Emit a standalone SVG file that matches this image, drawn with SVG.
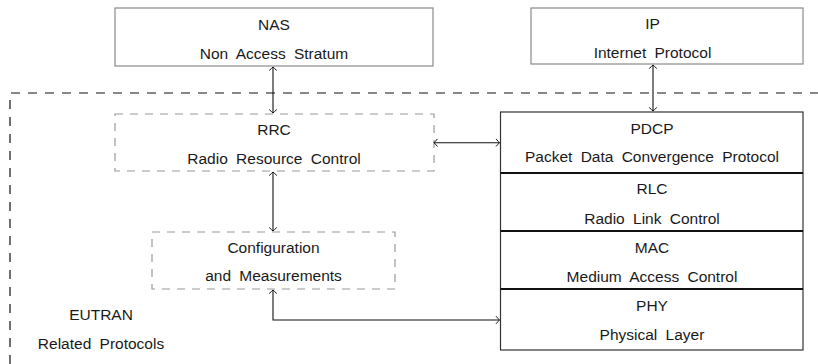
<svg xmlns="http://www.w3.org/2000/svg" width="818" height="364" viewBox="0 0 818 364">
<style>
text{font-family:"Liberation Sans",Arial,sans-serif;font-size:15.5px;word-spacing:4px;fill:#1a1a1a;text-anchor:middle}
.solid{fill:#fff;stroke:#8a8a8a;stroke-width:1.2}
.dash{fill:none;stroke:#9a9a9a;stroke-width:1.2;stroke-dasharray:8 7}
.stack{fill:#fff;stroke:#333;stroke-width:1.2}
.div{stroke:#111;stroke-width:2}
.conn{fill:none;stroke:#111;stroke-width:1.1;marker-start:url(#ah);marker-end:url(#ah)}
</style>
<defs>
<marker id="ah" markerUnits="userSpaceOnUse" markerWidth="10" markerHeight="10" viewBox="-6 -5 8 10" refX="0" refY="0" orient="auto-start-reverse">
<path d="M-3.5,-3.8 Q-1,-1 0,0 Q-1,1 -3.5,3.8" fill="none" stroke="#111" stroke-width="1"/>
</marker>
</defs>
<g id="eutran">
<path d="M10,364 V93 H818" fill="none" stroke="#111" stroke-width="1.2" stroke-dasharray="9 8"/>
<text x="101" y="319.5">EUTRAN</text>
<text x="101" y="349">Related Protocols</text>
</g>
<g id="nas">
<rect class="solid" x="115" y="8" width="318" height="58"/>
<text x="274" y="30">NAS</text>
<text x="274" y="59">Non Access Stratum</text>
</g>
<g id="ip">
<rect class="solid" x="531" y="8" width="272" height="56"/>
<text x="652.5" y="29">IP</text>
<text x="652.5" y="58">Internet Protocol</text>
</g>
<g id="rrc">
<rect class="dash" x="115" y="114" width="319" height="57"/>
<text x="274" y="135">RRC</text>
<text x="274" y="164">Radio Resource Control</text>
</g>
<g id="config">
<rect class="dash" x="152" y="232" width="243" height="57"/>
<text x="273.5" y="253">Configuration</text>
<text x="273.5" y="281">and Measurements</text>
</g>
<g id="stack">
<rect class="stack" x="500.5" y="112" width="302.5" height="238"/>
<line class="div" x1="500.5" y1="173" x2="803" y2="173"/>
<line class="div" x1="500.5" y1="231" x2="803" y2="231"/>
<line class="div" x1="500.5" y1="289" x2="803" y2="289"/>
</g>
<g id="pdcp">
<text x="652" y="134">PDCP</text>
<text x="652" y="162">Packet Data Convergence Protocol</text>
</g>
<g id="rlc">
<text x="652" y="193.5">RLC</text>
<text x="652" y="224">Radio Link Control</text>
</g>
<g id="mac">
<text x="652" y="253">MAC</text>
<text x="652" y="282">Medium Access Control</text>
</g>
<g id="phy">
<text x="652" y="311">PHY</text>
<text x="652" y="340">Physical Layer</text>
</g>
<g id="connectors">
<path class="conn" d="M273,67 V113"/>
<path class="conn" d="M653,65 V111"/>
<path class="conn" d="M434,142.7 H499.5"/>
<path class="conn" d="M273,172 V231"/>
<path class="conn" d="M273,290 V320 H499.5"/>
</g>
</svg>
